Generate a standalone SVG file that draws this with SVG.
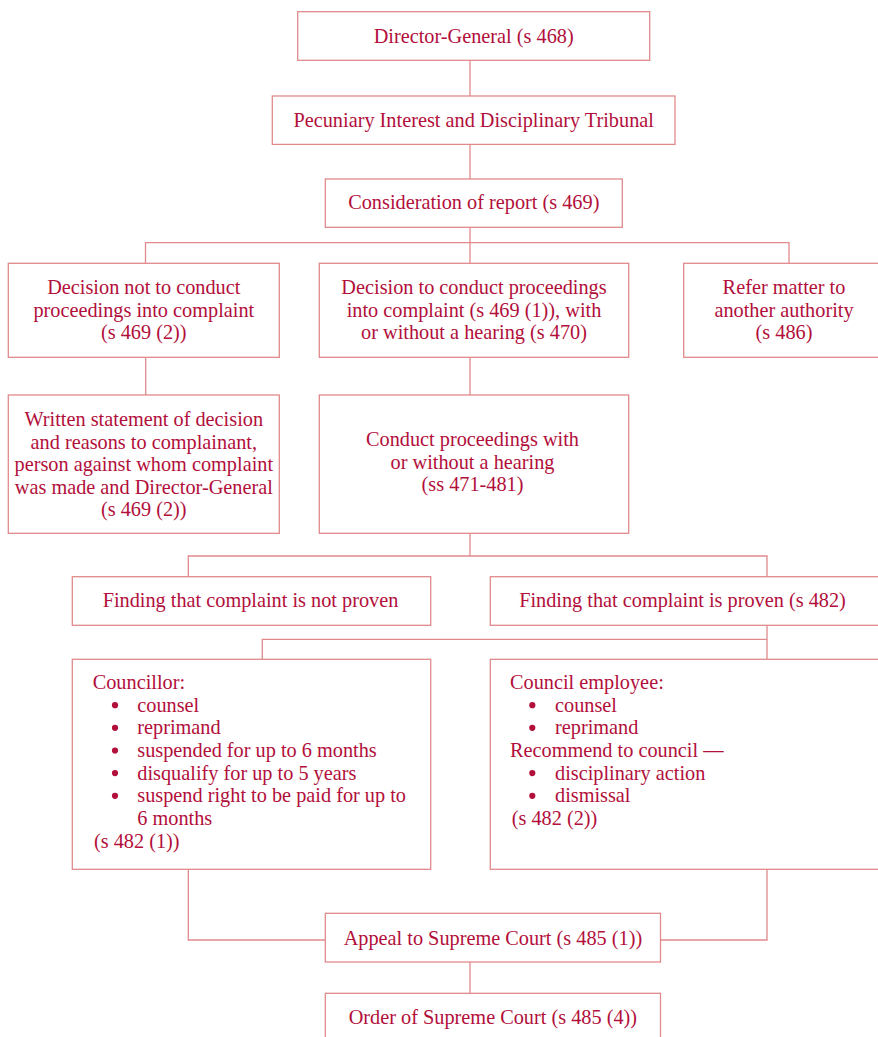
<svg xmlns="http://www.w3.org/2000/svg" width="878" height="1037" viewBox="0 0 878 1037">
<style>
.box{fill:#fff;stroke:#e08a8c;stroke-width:1.3}
.ln{fill:none;stroke:#e08a8c;stroke-width:1.3}
.dot{fill:#b20f3b}
text{font-family:"Liberation Serif","Times New Roman",serif;font-size:20.3px;fill:#b20f3b}
.c{text-anchor:middle}
</style>
<defs>
<circle id="bul" class="dot" r="3.1"/>
</defs>
<rect width="878" height="1037" fill="#fff"/>
<g id="connectors">
<line class="ln" x1="470" y1="60" x2="470" y2="96"/>
<line class="ln" x1="470" y1="144.5" x2="470" y2="179"/>
<line class="ln" x1="470" y1="227" x2="470" y2="263"/>
<polyline class="ln" points="145.5,263 145.5,242.7 789,242.7 789,263"/>
<line class="ln" x1="145.7" y1="357.3" x2="145.7" y2="395"/>
<line class="ln" x1="470" y1="357.3" x2="470" y2="395"/>
<line class="ln" x1="470" y1="533.3" x2="470" y2="556"/>
<polyline class="ln" points="188.3,576.7 188.3,556 767,556 767,576.7"/>
<line class="ln" x1="767" y1="625.3" x2="767" y2="659.3"/>
<polyline class="ln" points="262.3,659.3 262.3,639.3 767,639.3"/>
<polyline class="ln" points="188.3,869.3 188.3,940 325.3,940"/>
<polyline class="ln" points="767,869.3 767,940 660.5,940"/>
<line class="ln" x1="470" y1="962" x2="470" y2="993.3"/>
</g>
<g id="director">
<rect class="box" x="297.7" y="11.7" width="352" height="48.6"/>
<text class="c" x="473.7" y="42.5">Director-General (s 468)</text>
</g>
<g id="tribunal">
<rect class="box" x="272.3" y="96" width="402.7" height="48.4"/>
<text class="c" x="473.7" y="126.5">Pecuniary Interest and Disciplinary Tribunal</text>
</g>
<g id="consideration">
<rect class="box" x="325.3" y="179" width="297" height="48.3"/>
<text class="c" x="473.8" y="209.3">Consideration of report (s 469)</text>
</g>
<g id="decision-not">
<rect class="box" x="8.3" y="263.3" width="271" height="94"/>
<text class="c" x="143.8" y="294">Decision not to conduct</text>
<text class="c" x="143.8" y="316.5">proceedings into complaint</text>
<text class="c" x="143.8" y="339">(s 469 (2))</text>
</g>
<g id="decision-to">
<rect class="box" x="319.3" y="263.3" width="309.4" height="94"/>
<text class="c" x="474" y="294">Decision to conduct proceedings</text>
<text class="c" x="474" y="316.5">into complaint (s 469 (1)), with</text>
<text class="c" x="474" y="339">or without a hearing (s 470)</text>
</g>
<g id="refer">
<rect class="box" x="683.7" y="263.3" width="200" height="94"/>
<text class="c" x="784" y="294">Refer matter to</text>
<text class="c" x="784" y="316.5">another authority</text>
<text class="c" x="784" y="339">(s 486)</text>
</g>
<g id="written">
<rect class="box" x="8.3" y="395" width="271" height="138.3"/>
<text class="c" x="143.8" y="426">Written statement of decision</text>
<text class="c" x="143.8" y="448.5">and reasons to complainant,</text>
<text class="c" x="143.8" y="471">person against whom complaint</text>
<text class="c" x="143.8" y="493.5">was made and Director-General</text>
<text class="c" x="143.8" y="516">(s 469 (2))</text>
</g>
<g id="conduct">
<rect class="box" x="319.3" y="395" width="309.4" height="138.3"/>
<text class="c" x="472.5" y="446">Conduct proceedings with</text>
<text class="c" x="472.5" y="468.5">or without a hearing</text>
<text class="c" x="472.5" y="491">(ss 471-481)</text>
</g>
<g id="not-proven">
<rect class="box" x="72.3" y="576.7" width="358.4" height="48.6"/>
<text class="c" x="250.5" y="607">Finding that complaint is not proven</text>
</g>
<g id="proven">
<rect class="box" x="490.3" y="576.7" width="392" height="48.6"/>
<text class="c" x="682.5" y="607">Finding that complaint is proven (s 482)</text>
</g>
<g id="councillor">
<rect class="box" x="72.3" y="659.3" width="358.4" height="210"/>
<text x="92.7" y="689.3">Councillor:</text>
<use href="#bul" x="115" y="705.2"/><text x="137.3" y="711.7">counsel</text>
<use href="#bul" x="115" y="727.8"/><text x="137.3" y="734.3">reprimand</text>
<use href="#bul" x="115" y="750.5"/><text x="137.3" y="757">suspended for up to 6 months</text>
<use href="#bul" x="115" y="773.1"/><text x="137.3" y="779.6">disqualify for up to 5 years</text>
<use href="#bul" x="115" y="795.8"/><text x="137.3" y="802.3">suspend right to be paid for up to</text>
<text x="137.3" y="825">6 months</text>
<text x="94" y="847.5">(s 482 (1))</text>
</g>
<g id="employee">
<rect class="box" x="490.3" y="659.3" width="392" height="210"/>
<text x="510" y="689.3">Council employee:</text>
<use href="#bul" x="532.3" y="705.2"/><text x="555" y="711.7">counsel</text>
<use href="#bul" x="532.3" y="727.8"/><text x="555" y="734.3">reprimand</text>
<text x="510" y="757">Recommend to council —</text>
<use href="#bul" x="532.3" y="773.1"/><text x="555" y="779.6">disciplinary action</text>
<use href="#bul" x="532.3" y="795.8"/><text x="555" y="802.3">dismissal</text>
<text x="511.7" y="825">(s 482 (2))</text>
</g>
<g id="appeal">
<rect class="box" x="325.3" y="913.3" width="335.2" height="48.7"/>
<text class="c" x="492.9" y="945">Appeal to Supreme Court (s 485 (1))</text>
</g>
<g id="order">
<rect class="box" x="325.3" y="993.3" width="335.2" height="50"/>
<text class="c" x="492.9" y="1023.5">Order of Supreme Court (s 485 (4))</text>
</g>
</svg>
